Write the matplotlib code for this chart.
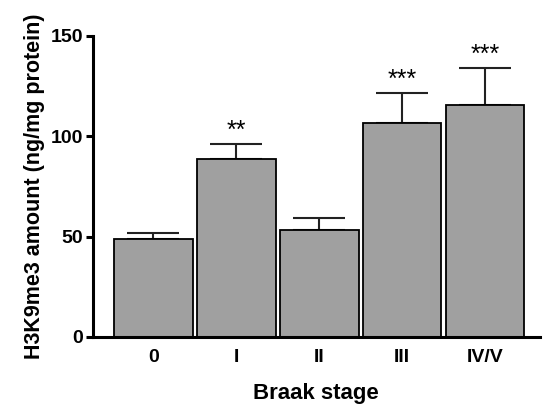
import numpy as np
import matplotlib
matplotlib.use("Agg")
import matplotlib.pyplot as plt

plt.rcParams['font.family'] = ['Liberation Sans', 'DejaVu Sans']

# Braak stage groups and measured H3K9me3 amounts
stages = ["0", "I", "II", "III", "IV/V"]
means = [48.8, 88.5, 53.3, 106.6, 115.7]
sem = [3.2, 7.5, 6.1, 15.0, 18.3]
stars = ["", "**", "", "***", "***"]

fig = plt.figure(figsize=(5.43, 4.04), dpi=100)
ax = fig.add_axes([0.171, 0.166, 0.823, 0.745])

x = np.arange(len(stages))
ax.bar(x, means, width=0.95, color="#a0a0a0", edgecolor="black", linewidth=1.3, zorder=2)
# upward-only error bars
ax.errorbar(x, means, yerr=[np.zeros(len(sem)), sem], fmt="none", ecolor="#222222",
            elinewidth=1.5, capsize=19, capthick=1.5, zorder=1)

for xi, m, s, st in zip(x, means, sem, stars):
    if st:
        ax.text(xi, m + s + 0.5, st, ha="center", va="bottom", fontsize=18)

ax.set_xlim(-0.73, 4.66)
ax.set_ylim(0, 150)
ax.set_yticks([0, 50, 100, 150])
ax.set_xticks(x)
ax.set_xticklabels(stages)

for side in ["top", "right"]:
    ax.spines[side].set_visible(False)
ax.spines["left"].set_linewidth(2.2)
ax.spines["bottom"].set_linewidth(2.2)

ax.tick_params(axis="y", length=5, width=2.2, labelsize=14, pad=2)
ax.tick_params(axis="x", length=0, labelsize=14, pad=9)
for lab in ax.get_xticklabels() + ax.get_yticklabels():
    lab.set_fontweight("bold")

ax.set_xlabel("Braak stage", fontsize=16, fontweight="bold", labelpad=12)
ax.set_ylabel("H3K9me3 amount (ng/mg protein)", fontsize=15.5, fontweight="bold", labelpad=4)

fig.savefig("out.png", dpi=100)
